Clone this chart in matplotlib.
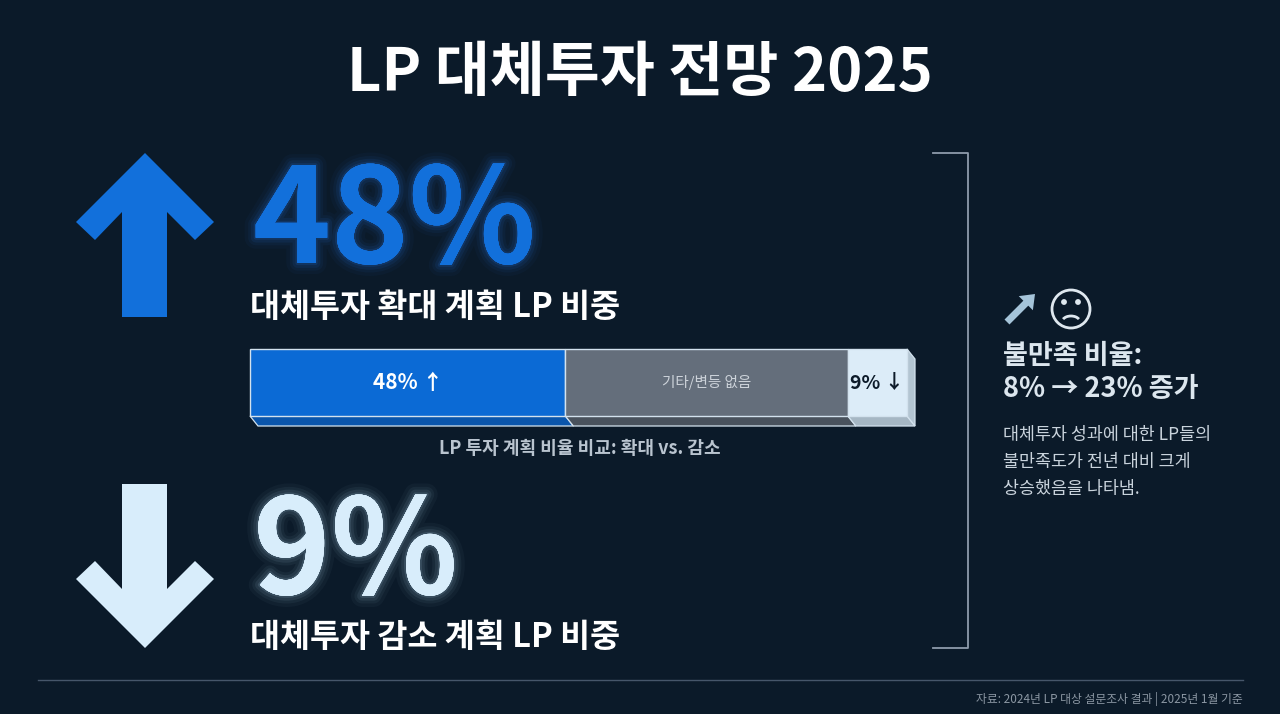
import numpy as np
import matplotlib
matplotlib.use('Agg')
import matplotlib.pyplot as plt
from matplotlib import patheffects as pe
from matplotlib.patches import Polygon, Circle, Arc, FancyArrow

plt.rcParams['font.family'] = ['Noto Sans CJK KR', 'DejaVu Sans']

# ------------------------------------------------------------------
# Data
title = 'LP 대체투자 전망 2025'
categories = ['확대', '기타/변등 없음', '감소']
shares = [48, 43, 9]                       # % of LPs
seg_labels = ['48% ↑', '기타/변등 없음', '9% ↓']
up_label = '대체투자 확대 계획 LP 비중'
down_label = '대체투자 감소 계획 LP 비중'
bar_caption = 'LP 투자 계획 비율 비교: 확대 vs. 감소'
dissat = [8, 23]                            # dissatisfaction, prev -> this year
side_text = ['대체투자 성과에 대한 LP들의', '불만족도가 전년 대비 크게', '상승했음을 나타냄.']
source = '자료: 2024년 LP 대상 설문조사 결과 | 2025년 1월 기준'
# ------------------------------------------------------------------

W, H = 1280, 714
bg = '#0b1a29'
blue = '#1270db'
pale = '#d8edfb'

fig = plt.figure(figsize=(W / 100, H / 100), dpi=100, facecolor=bg)
ax = fig.add_axes([0, 0, 1, 1])
ax.set_xlim(0, W)
ax.set_ylim(H, 0)
ax.axis('off')
ax.set_facecolor(bg)


def glow(color):
  # soft halo: a few wide, faint strokes under the glyphs
  effects = [pe.withStroke(linewidth=lw, foreground=color, alpha=a)
             for lw, a in [(16, 0.035), (11, 0.05), (7, 0.08), (3, 0.12)]]
  return effects + [pe.Normal()]


# Title
ax.text(640, 74, title, ha='center', va='center', fontsize=43,
        weight='bold', color='white')

# Big up arrow (icon)
up = [(145, 153), (214, 222), (195, 240), (167, 212), (167, 317),
      (122, 317), (122, 212), (95, 240), (76, 222)]
ax.add_patch(Polygon(up, closed=True, color=blue, lw=0))

# Big down arrow (icon)
down = [(145, 648), (214, 579), (195, 561), (167, 589), (167, 484),
        (122, 484), (122, 589), (95, 561), (76, 579)]
ax.add_patch(Polygon(down, closed=True, color=pale, lw=0))

# Headline numbers
ax.text(253, 263, '%d%%' % shares[0], ha='left', va='baseline',
        fontsize=95, weight='bold', color=blue,
        path_effects=glow('#2a86ff'))
ax.text(253, 594, '%d%%' % shares[2], ha='left', va='baseline',
        fontsize=95, weight='bold', color=pale,
        path_effects=glow('#bfe6ff'))
ax.text(250, 307, up_label, ha='left', va='center', fontsize=23.5,
        weight='bold', color='white')
ax.text(250, 637, down_label, ha='left', va='center', fontsize=23.5,
        weight='bold', color='white')

# ------------------------------------------------------------------
# Stacked 3D-ish bar
bx0, bx1, by0, by1 = 250, 907, 349, 416
bax = fig.add_axes([bx0 / W, 1 - by1 / H, (bx1 - bx0) / W, (by1 - by0) / H])
bax.set_xlim(0, 100)
bax.set_ylim(0, 1)
bax.axis('off')

face = ['#0b6ad5', '#646e7b', '#dcecf8']
bottom = ['#0a55ab', '#49525d', '#a6b7c4']
txt_col = ['white', '#cdd3da', '#0d1b2a']
txt_size = [15, 10.5, 14]
txt_w = ['bold', 'normal', 'bold']
edge = '#d3e2ee'

lefts = np.concatenate([[0], np.cumsum(shares)[:-1]])
dx = 100 * 8 / (bx1 - bx0)
dy = 10 / (by1 - by0)

for l, w, fb in zip(lefts, shares, bottom):
  bax.add_patch(Polygon([(l, 0), (l + w, 0), (l + w + dx, -dy), (l + dx, -dy)],
                        closed=True, fc=fb, ec=edge, lw=0.9, clip_on=False))
total = sum(shares)
bax.add_patch(Polygon([(total, 1), (total + dx, 1 - dy), (total + dx, -dy), (total, 0)],
                      closed=True, fc='#b3c5d2', ec=edge, lw=0.9, clip_on=False))
bax.barh(0.5, shares, left=lefts, height=1, color=face, edgecolor=edge,
         linewidth=1.0, clip_on=False)
for l, w, s, c, fs, fw in zip(lefts, shares, seg_labels, txt_col, txt_size, txt_w):
  bax.text(l + w / 2, 0.5, s, ha='center', va='center', fontsize=fs,
           weight=fw, color=c)

ax.text(580, 449, bar_caption, ha='center', va='center', fontsize=13,
        weight='bold', color='#b9c4cf')
# ------------------------------------------------------------------

# Bracket
ax.plot([933, 968, 968, 933], [153, 153, 648, 648], color='#8e9bab', lw=1.3)

# Right panel icons
ax.add_patch(FancyArrow(1007, 322, 28, -28, width=7, head_width=20,
                        head_length=13, length_includes_head=True,
                        color='#a5c4d9', lw=0))
ax.add_patch(Circle((1071, 309), 19, fill=False, ec='#dfe8ef', lw=2))
ax.add_patch(Circle((1064, 302), 2.2, color='#dfe8ef'))
ax.add_patch(Circle((1078, 302), 2.2, color='#dfe8ef'))
ax.add_patch(Arc((1071, 322), 18, 12, theta1=200, theta2=340,
                 color='#dfe8ef', lw=2))

ax.text(1003, 356, '불만족 비율:', ha='left', va='center', fontsize=19.5,
        weight='bold', color='#dce6ee')
ax.text(1003, 389, '%d%% → %d%% 증가' % (dissat[0], dissat[1]), ha='left',
        va='center', fontsize=19.5, weight='bold', color='#dce6ee')
for i, line in enumerate(side_text):
  ax.text(1003, 435 + 27 * i, line, ha='left', va='center', fontsize=12.5,
          color='#c9d3dc')

# Footer
ax.plot([38, 1243], [680, 680], color='#46566a', lw=1)
ax.text(1243, 699, source, ha='right', va='center', fontsize=8.5,
        color='#8b97a3')

fig.savefig('out.png', dpi=100, facecolor=bg)
